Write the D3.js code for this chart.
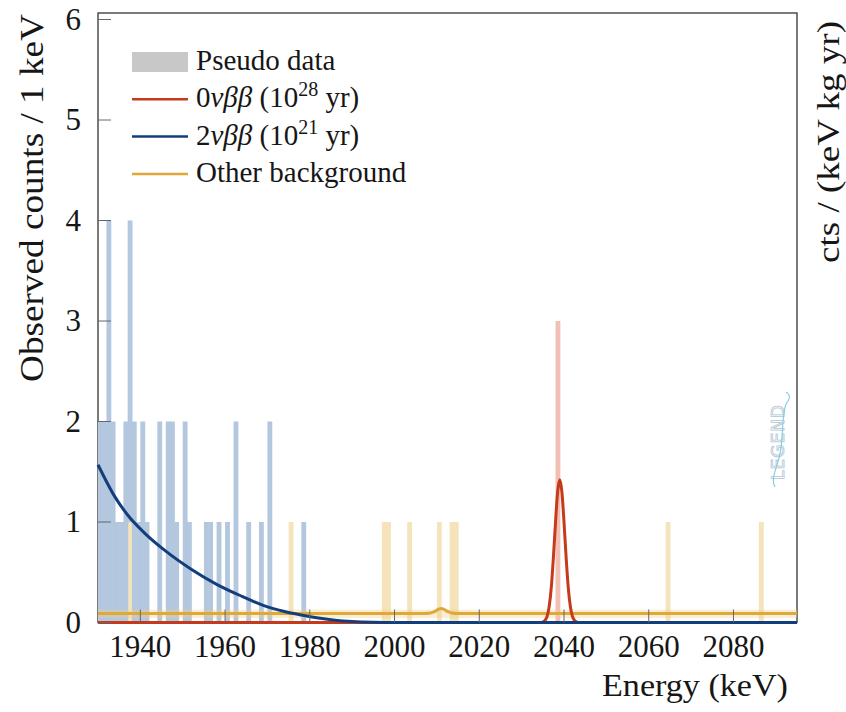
<!DOCTYPE html>
<html>
<head>
<meta charset="utf-8">
<script src="https://cdn.jsdelivr.net/npm/d3@7"></script>
<style>
    body { margin: 0; background: #fff; }
    text { font-family: "Liberation Serif", "DejaVu Serif", serif; fill: #161616; }
</style>
</head>
<body>
<div id="chart"></div>
<script>
// pseudo data histogram, 1 keV bins (lower edge of bin)
const twoNuBins   = [1930, 1931, 1932, 1933, 1934, 1935, 1936, 1937, 1938, 1939, 1940, 1941, 1944, 1946, 1947, 1948, 1950, 1951, 1955, 1956, 1958, 1960, 1962, 1965, 1968, 1970, 1978];
const twoNuCounts = [2, 2, 4, 2, 1, 1, 2, 3, 2, 1, 2, 1, 2, 2, 2, 1, 2, 1, 1, 1, 1, 1, 2, 1, 1, 2, 1];
const bkgBins     = [1937, 1975, 1997, 1998, 2003, 2010, 2013, 2014, 2064, 2086];
const bkgCounts   = [1, 1, 1, 1, 1, 1, 1, 1, 1, 1];
const zeroNuBins   = [2038];
const zeroNuCounts = [3];

// model curves (energy in keV, expected counts / keV)
const twoNuE = [1930, 1934, 1937, 1941, 1946, 1952, 1958, 1964, 1969, 1974, 1978, 1982, 1986, 1990, 1995, 2000, 2095];
const twoNuY = [1.57, 1.25, 1.07, 0.89, 0.71, 0.53, 0.38, 0.26, 0.17, 0.11, 0.075, 0.045, 0.022, 0.009, 0.002, 0, 0];
const zeroNuE = [1930, 2034.5, 2035, 2035.5, 2036, 2036.5, 2037, 2037.5, 2038, 2038.5, 2039, 2039.5, 2040, 2040.5, 2041, 2041.5, 2042, 2042.5, 2043, 2043.5, 2095];
const zeroNuY = [0, 0, 0.005, 0.02, 0.06, 0.16, 0.35, 0.65, 1.0, 1.3, 1.42, 1.3, 1.0, 0.65, 0.35, 0.16, 0.06, 0.02, 0.005, 0, 0];
const otherE = [1930, 2007, 2008.5, 2009.5, 2010.3, 2011, 2011.7, 2012.5, 2013.5, 2015, 2095];
const otherY = [0.09, 0.09, 0.095, 0.11, 0.13, 0.14, 0.13, 0.11, 0.095, 0.09, 0.09];
const otherLo = 0.045, otherHi = 0.13;

const xTicks = [1940, 1960, 1980, 2000, 2020, 2040, 2060, 2080];
const yTicks = [0, 1, 2, 3, 4, 5, 6];

const legendItems = [
    { kind: "rect", color: "#c8c8c8", parts: [["Pseudo data", ""]] },
    { kind: "line", color: "#c63a1c", parts: [["0", ""], ["νββ", "it"], [" (10", ""], ["28", "sup"], [" yr)", "down"]] },
    { kind: "line", color: "#123f7c", parts: [["2", ""], ["νββ", "it"], [" (10", ""], ["21", "sup"], [" yr)", "down"]] },
    { kind: "line", color: "#e0a83a", parts: [["Other background", ""]] }
];

const W = 846, H = 712;
const plotLeft = 98, plotRight = 797, plotTop = 13, plotBottom = 622.5;

const svg = d3.select("#chart").append("svg")
    .attr("width", W).attr("height", H);

const x = d3.scaleLinear().domain([1930, 2095]).range([plotLeft, plotRight]);
const y = d3.scaleLinear().domain([0, 6]).range([plotBottom, 19.5]);

// frame
svg.append("rect")
    .attr("x", plotLeft).attr("y", plotTop)
    .attr("width", plotRight - plotLeft).attr("height", plotBottom - plotTop)
    .attr("fill", "none").attr("stroke", "#333").attr("stroke-width", 1.3);

const plot = svg.append("g");

function bars(bins, counts, base, color) {
    plot.selectAll(null)
        .data(bins.map((b, i) => ({ b, c: counts[i], base: base(b) })))
        .enter().append("rect")
        .attr("x", d => x(d.b))
        .attr("width", d => x(d.b + 1) - x(d.b) + 0.6)
        .attr("y", d => y(d.base + d.c))
        .attr("height", d => y(d.base) - y(d.base + d.c) + 0.3)
        .attr("fill", color);
}

bars(bkgBins, bkgCounts, () => 0, "#f4e3bb");
bars(twoNuBins, twoNuCounts, b => {
    const k = bkgBins.indexOf(b);
    return k >= 0 ? bkgCounts[k] : 0;
}, "#b3c7de");
bars(zeroNuBins, zeroNuCounts, () => 0, "#f1bfb3");

// other background band + line
plot.append("path")
    .datum(otherE)
    .attr("d", d3.area().x(d => x(d)).y0(y(otherLo)).y1(y(otherHi)))
    .attr("fill", "#f0cf86").attr("opacity", 0.35);

const line = d3.line().curve(d3.curveMonotoneX);

plot.append("path")
    .attr("d", line(otherE.map((e, i) => [x(e), y(otherY[i])])))
    .attr("fill", "none").attr("stroke", "#e0a83a").attr("stroke-width", 3);

plot.append("path")
    .attr("d", line(zeroNuE.map((e, i) => [x(e), y(zeroNuY[i])])))
    .attr("fill", "none").attr("stroke", "#c63a1c").attr("stroke-width", 3);

plot.append("path")
    .attr("d", line(twoNuE.map((e, i) => [x(e), y(twoNuY[i])])))
    .attr("fill", "none").attr("stroke", "#123f7c").attr("stroke-width", 3);

// ticks (inward)
svg.selectAll(null).data(xTicks).enter().append("line")
    .attr("x1", d => x(d)).attr("x2", d => x(d))
    .attr("y1", plotBottom).attr("y2", plotBottom - 13)
    .attr("stroke", "#666").attr("stroke-width", 1);
svg.selectAll(null).data(yTicks).enter().append("line")
    .attr("x1", plotLeft).attr("x2", plotLeft + 13)
    .attr("y1", d => y(d)).attr("y2", d => y(d))
    .attr("stroke", "#666").attr("stroke-width", 1);

svg.selectAll(null).data(xTicks).enter().append("text")
    .attr("x", d => x(d)).attr("y", 657)
    .attr("text-anchor", "middle").attr("font-size", 31)
    .text(d => d);
svg.selectAll(null).data(yTicks).enter().append("text")
    .attr("x", 81).attr("y", d => y(d) + 10)
    .attr("text-anchor", "end").attr("font-size", 31)
    .text(d => d);

// axis titles
svg.append("text")
    .attr("transform", "translate(43,198) rotate(-90)")
    .attr("text-anchor", "middle").attr("font-size", 33)
    .attr("textLength", 368).attr("lengthAdjust", "spacingAndGlyphs")
    .text("Observed counts / 1 keV");
svg.append("text")
    .attr("transform", "translate(839,142) rotate(-90)")
    .attr("text-anchor", "middle").attr("font-size", 31)
    .attr("textLength", 242).attr("lengthAdjust", "spacingAndGlyphs")
    .text("cts / (keV kg yr)");
svg.append("text")
    .attr("x", 788).attr("y", 696)
    .attr("text-anchor", "end").attr("font-size", 31)
    .attr("textLength", 186).attr("lengthAdjust", "spacingAndGlyphs")
    .text("Energy (keV)");

// legend
const leg = svg.append("g");
legendItems.forEach((it, i) => {
    const cy = 62 + i * 37.3;
    if (it.kind === "rect") {
        leg.append("rect").attr("x", 132).attr("y", cy - 10)
            .attr("width", 56).attr("height", 20).attr("fill", it.color);
    } else {
        leg.append("line").attr("x1", 132).attr("x2", 188)
            .attr("y1", cy).attr("y2", cy)
            .attr("stroke", it.color).attr("stroke-width", 2.5);
    }
    const t = leg.append("text").attr("x", 196).attr("y", cy + 8).attr("font-size", 29);
    it.parts.forEach(([s, style]) => {
        const sp = t.append("tspan").text(s);
        if (style === "it") sp.attr("font-style", "italic");
        if (style === "sup") sp.attr("font-size", 20).attr("dy", -11);
        if (style === "down") sp.attr("dy", 11);
    });
});

// LEGEND logo (faint)
const logo = svg.append("g").attr("opacity", 0.8);
logo.append("text")
    .attr("transform", "translate(784,442) rotate(-90)")
    .attr("text-anchor", "middle")
    .style("font-family", "'DejaVu Sans', sans-serif")
    .attr("font-size", 17).attr("letter-spacing", 1)
    .style("fill", "none").attr("stroke", "#9ab9cc").attr("stroke-width", 0.8)
    .text("LEGEND");
logo.append("path")
    .attr("d", "M786,392 C792,396 789,400 786,404 C781,418 784,440 779,458 C775,472 771,480 775,487")
    .attr("fill", "none").attr("stroke", "#62bfe0").attr("stroke-width", 1.1);
</script>
</body>
</html>
